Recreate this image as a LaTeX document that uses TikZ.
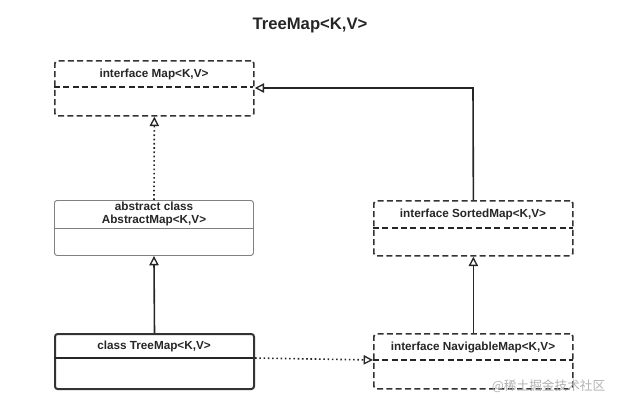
\documentclass[tikz,border=0pt]{standalone}
\usepackage{fontspec}
\setmainfont{Liberation Sans}
\newfontfamily\cjk{Noto Sans CJK SC}
\usetikzlibrary{arrows.meta}
\begin{document}
\begin{tikzpicture}[x=0.75pt,y=-0.75pt,
  box/.style={draw=black!80,rectangle,rounded corners=2pt,minimum width=149.25pt,minimum height=41.25pt,anchor=north west,inner sep=0pt,line width=1.3pt},
  dsh/.style={dash pattern=on 4.5pt off 2.5pt},
  lbl/.style={font=\bfseries\fontsize{8.8}{10}\selectfont,text=black!85,align=center},
  tri/.style={-{Triangle[open,length=7pt,width=7pt,line width=1pt]}},
  con/.style={draw=black!85,line width=1.2pt}]
\useasboundingbox (0,0) rectangle (620,405);
\node[font=\bfseries\fontsize{12.5}{14}\selectfont,text=black!85] (title) at (310,25) {TreeMap<K,V>};
% Map
\node[box,dsh] (map) at (54,60) {};
\draw[con,dsh] (54,87) -- (253,87);
\node[lbl] (mapl) at (154,74) {interface Map<K,V>};
% AbstractMap
\node[box,draw=black!50,line width=0.7pt] (abs) at (54,200) {};
\draw[draw=black!50,line width=0.7pt] (54,228) -- (253,228);
\node[lbl] (absl) at (154,214) {abstract class\\AbstractMap<K,V>};
% TreeMap
\node[box,line width=1.5pt] (tm) at (54,333) {};
\draw[con,line width=1.2pt] (54,358) -- (253,358);
\node[lbl] (tml) at (154,346) {class TreeMap<K,V>};
% SortedMap
\node[box,dsh] (sm) at (373,200) {};
\draw[con,dsh] (373,228) -- (573,228);
\node[lbl] (sml) at (473,214) {interface SortedMap<K,V>};
% NavigableMap
\node[box,dsh] (nm) at (373,333) {};
\draw[con,dsh] (373,360) -- (573,360);
\node[lbl] (nml) at (473,347) {interface NavigableMap<K,V>};
% connectors
\draw[con,tri,dotted] (abs.north) -- (map.south);
\draw[con,tri] (tm.north) -- (abs.south);
\draw[con,tri,dotted] (tm.east |- 0,358) -- (nm.west |- 0,360);
\draw[con,tri] (nm.north) -- (sm.south);
\coordinate (corner) at (473,88);
\draw[con,tri] (sm.north) -- (corner) -- (map.east |- corner);
\node[font=\cjk\fontsize{9.5}{11}\selectfont,text=black!30,anchor=east] (wm) at (610,386) {@稀土掘金技术社区};
\end{tikzpicture}
\end{document}
